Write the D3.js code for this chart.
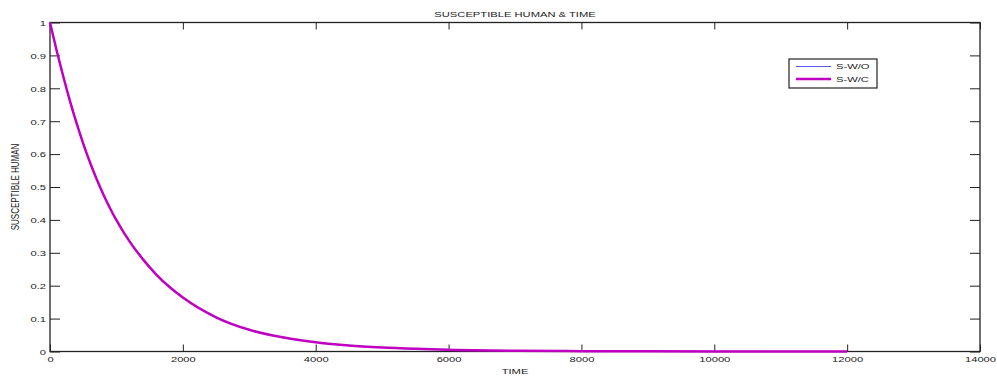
<!DOCTYPE html>
<html lang="en">
  <head>
    <meta charset="UTF-8" />
    <title>Susceptible human & time</title>
    <script src="https://cdn.jsdelivr.net/npm/d3@7"></script>
    <style>
      body { margin: 0; background: #fff; }
      text { font-family: "Liberation Sans", Arial, sans-serif; fill: #222; }
    </style>
  </head>
  <body>
    <svg width="997" height="377"></svg>

    <script>
      // time points
      var time = [0, 100, 200, 300, 400, 500, 600, 700, 800, 900, 1000, 1100, 1200,
        1400, 1600, 1800, 2000, 2500, 3000, 3500, 4000, 4500, 5000, 5500, 6000,
        7000, 8000, 9000, 10000, 11000, 12000];
      // S-W/O
      var sWO = [1.0, 0.914, 0.835, 0.761, 0.693, 0.631, 0.575, 0.524, 0.478, 0.436, 0.398, 0.364, 0.333,
        0.279, 0.233, 0.195, 0.163, 0.103, 0.065, 0.042, 0.028, 0.018, 0.012, 0.008, 0.005,
        0.002, 0.001, 0.0005, 0.0002, 0.0001, 0.0001];
      // S-W/C
      var sWC = [1.0, 0.915, 0.836, 0.762, 0.694, 0.632, 0.576, 0.525, 0.479, 0.437, 0.399, 0.365, 0.334,
        0.28, 0.234, 0.196, 0.164, 0.104, 0.066, 0.043, 0.028, 0.018, 0.012, 0.008, 0.005,
        0.002, 0.001, 0.0005, 0.0002, 0.0001, 0.0001];
      var xTicks = [0, 2000, 4000, 6000, 8000, 10000, 12000, 14000];
      var yTicks = [0, 0.1, 0.2, 0.3, 0.4, 0.5, 0.6, 0.7, 0.8, 0.9, 1];

      var svg = d3.select("svg"),
        margin = { top: 22.5, right: 17, bottom: 25.5, left: 50 },
        width = +svg.attr("width") - margin.left - margin.right,
        height = +svg.attr("height") - margin.top - margin.bottom;

      // text in the picture is wider than normal
      var sx = 1.4;

      var x = d3.scaleLinear().domain([0, 14000]).range([0, width]),
        y = d3.scaleLinear().domain([0, 1]).range([height, 0]);

      var g = svg
        .append("g")
        .attr("transform", "translate(" + margin.left + "," + margin.top + ")");

      function styleAxis(sel) {
        sel.select(".domain").remove();
        sel.selectAll("line").attr("stroke", "#222");
        sel.selectAll("text").attr("font-size", 8).style("font-family", null);
      }

      var xAxis = g.append("g")
        .attr("transform", "translate(0," + height + ")")
        .call(d3.axisBottom(x).tickValues(xTicks).tickSizeInner(-7).tickSizeOuter(0)
          .tickFormat(d3.format("d")))
        .call(styleAxis);
      xAxis.selectAll("text")
        .attr("y", 0).attr("dy", 0)
        .attr("transform", "translate(0,10.5) scale(" + sx + ",1)");

      var yAxis = g.append("g")
        .call(d3.axisLeft(y).tickValues(yTicks).tickSizeInner(-10).tickSizeOuter(0)
          .tickFormat(d3.format("~g")))
        .call(styleAxis);
      yAxis.selectAll("text")
        .attr("x", 0).attr("dy", "0.35em")
        .attr("transform", "translate(-4,0) scale(" + sx + ",1)");

      g.append("g")
        .call(d3.axisTop(x).tickValues(xTicks).tickSizeInner(-7).tickSizeOuter(0).tickFormat(""))
        .call(styleAxis);
      g.append("g")
        .attr("transform", "translate(" + width + ",0)")
        .call(d3.axisRight(y).tickValues(yTicks).tickSizeInner(-10).tickSizeOuter(0).tickFormat(""))
        .call(styleAxis);

      // box
      g.append("rect")
        .attr("width", width)
        .attr("height", height)
        .attr("fill", "none")
        .attr("stroke", "#222")
        .attr("stroke-width", 1.3);

      var line = function (vals) {
        return d3.line()
          .x(function (d, i) { return x(time[i]); })
          .y(function (d) { return y(d); })
          .curve(d3.curveMonotoneX)(vals);
      };

      g.append("path")
        .attr("d", line(sWO))
        .attr("fill", "none")
        .attr("stroke", "#5a5af0")
        .attr("stroke-width", 1);

      g.append("path")
        .attr("d", line(sWC))
        .attr("fill", "none")
        .attr("stroke", "#c000c0")
        .attr("stroke-width", 2.5);

      // title and axis labels
      svg.append("text")
        .attr("text-anchor", "middle")
        .attr("font-size", 8)
        .attr("transform", "translate(" + (margin.left + width / 2) + ",16.5) scale(" + sx + ",1)")
        .text("SUSCEPTIBLE HUMAN & TIME");

      svg.append("text")
        .attr("text-anchor", "middle")
        .attr("font-size", 8)
        .attr("transform", "translate(" + (margin.left + width / 2) + ",374) scale(" + sx + ",1)")
        .text("TIME");

      svg.append("text")
        .attr("text-anchor", "middle")
        .attr("font-size", 8)
        .attr("transform", "translate(19," + (margin.top + height / 2) + ") scale(" + sx + ",1) rotate(-90)")
        .text("SUSCEPTIBLE HUMAN");

      // legend
      var legend = svg.append("g").attr("transform", "translate(789,59)");
      legend.append("rect")
        .attr("width", 88)
        .attr("height", 29)
        .attr("fill", "#fff")
        .attr("stroke", "#222")
        .attr("stroke-width", 1.2);
      var items = [
        { name: "S-W/O", color: "#5a5af0", w: 1 },
        { name: "S-W/C", color: "#c000c0", w: 2.5 },
      ];
      items.forEach(function (d, i) {
        var yy = 7.5 + i * 12.5;
        legend.append("line")
          .attr("x1", 7).attr("x2", 42)
          .attr("y1", yy).attr("y2", yy)
          .attr("stroke", d.color)
          .attr("stroke-width", d.w);
        legend.append("text")
          .attr("font-size", 8)
          .attr("dy", "0.35em")
          .attr("transform", "translate(47," + yy + ") scale(" + sx + ",1)")
          .text(d.name);
      });
    </script>
  </body>
</html>
